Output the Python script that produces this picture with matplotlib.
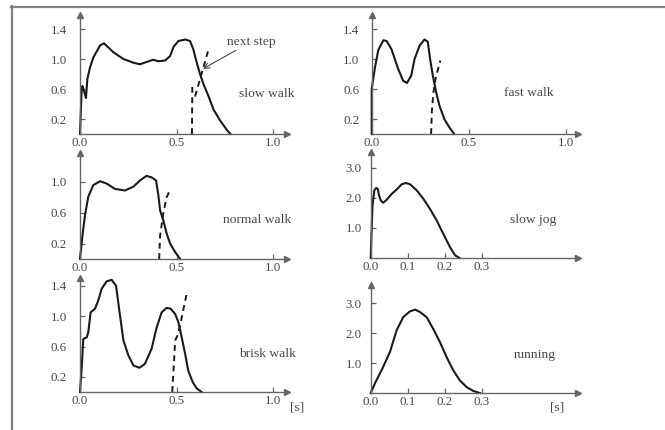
import numpy as np
import matplotlib
matplotlib.use("Agg")
import matplotlib.pyplot as plt
from matplotlib.lines import Line2D

plt.rcParams['font.family'] = ['Liberation Serif', 'DejaVu Serif']

TEXT = '#474747'
AXIS = '#666666'
CURVE = '#1a1a1a'
nan = np.nan

# ---- ground reaction force curves (time in s, force in body weights) ----
slow_walk_t = [0.0, 0.009, 0.013, 0.020, 0.031, 0.038, 0.052, 0.069, 0.104, 0.124,
               0.173, 0.225, 0.277, 0.311, 0.345, 0.380, 0.406, 0.441, 0.467, 0.484,
               0.510, 0.545, 0.570, 0.587, 0.604, 0.622, 0.639, 0.665, 0.691, 0.726,
               0.762, 0.780]
slow_walk_f = [0.0, 0.62, 0.64, 0.58, 0.48, 0.73, 0.89, 1.02, 1.18, 1.21,
               1.09, 1.00, 0.95, 0.93, 0.96, 0.99, 0.97, 0.98, 1.04, 1.16,
               1.24, 1.26, 1.24, 1.13, 0.96, 0.80, 0.67, 0.51, 0.33, 0.18,
               0.05, 0.0]
slow_walk_next_t = [0.580, 0.582, nan, 0.596, 0.663]
slow_walk_next_f = [0.0, 0.63, nan, 0.50, 1.10]

fast_walk_t = [0.0, 0.0, 0.017, 0.034, 0.060, 0.077, 0.102, 0.136, 0.162, 0.182,
               0.204, 0.221, 0.247, 0.272, 0.289, 0.301, 0.315, 0.332, 0.349, 0.374,
               0.400, 0.425]
fast_walk_f = [0.0, 0.60, 0.89, 1.12, 1.25, 1.24, 1.13, 0.87, 0.71, 0.68,
               0.78, 1.00, 1.18, 1.26, 1.23, 1.00, 0.78, 0.56, 0.38, 0.20,
               0.09, 0.0]
fast_walk_next_t = [0.306, 0.310, 0.318, 0.330, 0.354]
fast_walk_next_f = [0.0, 0.30, 0.55, 0.75, 0.98]

normal_walk_t = [0.0, 0.013, 0.026, 0.043, 0.069, 0.104, 0.138, 0.181, 0.233, 0.277,
                 0.311, 0.345, 0.371, 0.394, 0.406, 0.415, 0.432, 0.449, 0.467, 0.493,
                 0.519]
normal_walk_f = [0.0, 0.31, 0.57, 0.81, 0.96, 1.01, 0.98, 0.91, 0.89, 0.94,
                 1.02, 1.08, 1.06, 1.02, 0.83, 0.63, 0.50, 0.33, 0.20, 0.09,
                 0.0]
normal_walk_next_t = [0.410, 0.415, 0.432, 0.449, 0.467]
normal_walk_next_f = [0.0, 0.30, 0.60, 0.80, 0.90]

slow_jog_t = [0.0, 0.0047, 0.007, 0.010, 0.0146, 0.019, 0.0224, 0.027, 0.034, 0.043,
              0.057, 0.070, 0.084, 0.095, 0.106, 0.124, 0.142, 0.160, 0.178, 0.196,
              0.214, 0.228, 0.240]
slow_jog_f = [0.0, 1.70, 1.98, 2.26, 2.33, 2.31, 2.09, 1.92, 1.84, 1.94,
              2.14, 2.28, 2.46, 2.50, 2.46, 2.26, 1.98, 1.64, 1.26, 0.81,
              0.37, 0.09, 0.0]

brisk_walk_t = [0.0, 0.009, 0.017, 0.035, 0.043, 0.055, 0.078, 0.095, 0.112, 0.138,
                0.164, 0.187, 0.204, 0.225, 0.251, 0.277, 0.308, 0.336, 0.371, 0.397,
                0.423, 0.449, 0.469, 0.493, 0.510, 0.527, 0.545, 0.561, 0.584, 0.604,
                0.630]
brisk_walk_f = [0.0, 0.33, 0.70, 0.72, 0.79, 1.05, 1.10, 1.21, 1.36, 1.46,
                1.48, 1.40, 1.07, 0.68, 0.48, 0.35, 0.32, 0.37, 0.57, 0.85,
                1.05, 1.11, 1.10, 1.03, 0.92, 0.72, 0.50, 0.28, 0.13, 0.05,
                0.0]
brisk_walk_next_t = [0.478, 0.487, 0.493, 0.506, 0.516, 0.553]
brisk_walk_next_f = [0.0, 0.40, 0.68, 0.75, 0.85, 1.30]

running_t = [0.0, 0.0133, 0.0314, 0.0521, 0.070, 0.088, 0.106, 0.120, 0.133, 0.151,
             0.169, 0.187, 0.205, 0.223, 0.241, 0.259, 0.277, 0.295]
running_f = [0.0, 0.37, 0.81, 1.37, 2.09, 2.53, 2.72, 2.78, 2.70, 2.53,
             2.14, 1.70, 1.20, 0.76, 0.42, 0.20, 0.07, 0.0]

walk_xticks = [0.0, 0.5, 1.0]
run_xticks = [0.0, 0.1, 0.2, 0.3]
walk_yticks_4 = [0.2, 0.6, 1.0, 1.4]
walk_yticks_3 = [0.2, 0.6, 1.0]
run_yticks = [1.0, 2.0, 3.0]

# ---- figure layout (pixel geometry of each panel) ----
W, H = 665, 430
fig = plt.figure(figsize=(W / 100, H / 100), dpi=100)
fig.patch.set_facecolor('white')

# outer frame (top and left edges)
fig.add_artist(Line2D([11 / W, 1.0], [1 - 6.5 / H, 1 - 6.5 / H], transform=fig.transFigure,
                      color='#808080', lw=1.6))
fig.add_artist(Line2D([11.5 / W, 11.5 / W], [0.0, 1 - 6 / H], transform=fig.transFigure,
                      color='#808080', lw=1.6))

panels = [
    dict(t=slow_walk_t, f=slow_walk_f, nt=slow_walk_next_t, nf=slow_walk_next_f,
         x0=80, y0=134, sx=193, sy=75, xend=287, ytop=15,
         xt=walk_xticks, yt=walk_yticks_4, label='slow walk', lx=0.97, ly=0.53, ypad=9.5),
    dict(t=fast_walk_t, f=fast_walk_f, nt=fast_walk_next_t, nf=fast_walk_next_f,
         x0=371.7, y0=134, sx=194, sy=75, xend=578, ytop=15,
         xt=walk_xticks, yt=walk_yticks_4, label='fast walk', lx=0.81, ly=0.55, ypad=9.0),
    dict(t=normal_walk_t, f=normal_walk_f, nt=normal_walk_next_t, nf=normal_walk_next_f,
         x0=80, y0=259, sx=193, sy=77, xend=287, ytop=153,
         xt=walk_xticks, yt=walk_yticks_3, label='normal walk', lx=0.92, ly=0.51, ypad=9.5),
    dict(t=slow_jog_t, f=slow_jog_f, nt=None, nf=None,
         x0=370.7, y0=258, sx=370, sy=30, xend=578, ytop=152,
         xt=run_xticks, yt=run_yticks, label='slow jog', lx=0.44, ly=1.27, ypad=6.5),
    dict(t=brisk_walk_t, f=brisk_walk_f, nt=brisk_walk_next_t, nf=brisk_walk_next_f,
         x0=80, y0=392, sx=193, sy=75.8, xend=287, ytop=278,
         xt=walk_xticks, yt=walk_yticks_4, label='brisk walk', lx=0.97, ly=0.50, ypad=9.5),
    dict(t=running_t, f=running_f, nt=None, nf=None,
         x0=370.7, y0=393, sx=370, sy=30, xend=578, ytop=285,
         xt=run_xticks, yt=run_yticks, label='running', lx=0.444, ly=1.27, ypad=6.5),
]

axes = []
for p in panels:
    left = p['x0'] / W
    bottom = 1 - p['y0'] / H
    width = (p['xend'] - p['x0']) / W
    height = (p['y0'] - p['ytop']) / H
    ax = fig.add_axes([left, bottom, width, height])
    ax.set_xlim(0, (p['xend'] - p['x0']) / p['sx'])
    ax.set_ylim(0, (p['y0'] - p['ytop']) / p['sy'])
    ax.patch.set_alpha(0)

    for side in ('top', 'right'):
        ax.spines[side].set_visible(False)
    for side in ('left', 'bottom'):
        ax.spines[side].set_color(AXIS)
        ax.spines[side].set_linewidth(1.0)

    # arrow heads at the ends of both axes
    ax.plot(1, 0, marker='>', ms=4.5, color=AXIS, transform=ax.transAxes, clip_on=False)
    ax.plot(0, 1, marker='^', ms=4.5, color=AXIS, transform=ax.transAxes, clip_on=False)

    ax.set_xticks(p['xt'])
    ax.set_xticklabels(['%.1f' % v for v in p['xt']])
    ax.set_yticks(p['yt'])
    ax.set_yticklabels(['%.1f' % v for v in p['yt']])
    ax.tick_params(axis='both', direction='in', length=3.5, width=0.9, color=AXIS,
                   labelsize=9.3, labelcolor=TEXT)
    ax.tick_params(axis='x', pad=2.5)
    ax.tick_params(axis='y', pad=p['ypad'])

    ax.plot(p['t'], p['f'], color=CURVE, lw=1.5, solid_joinstyle='round', clip_on=False)
    if p['nt'] is not None:
        ax.plot(p['nt'], p['nf'], color=CURVE, lw=1.4, ls=(0, (3.0, 2.3)), clip_on=False)

    ax.text(p['lx'], p['ly'], p['label'], ha='center', va='center', fontsize=9.7,
            color=TEXT)
    axes.append(ax)

# annotation for the following foot contact
axes[0].annotate('next step', xy=(0.637, 0.87), xytext=(0.762, 1.23),
                 fontsize=9.7, color=TEXT, ha='left', va='center',
                 arrowprops=dict(arrowstyle='->', color=TEXT, lw=0.8,
                                 shrinkA=0, shrinkB=0))

# time unit labels
axes[4].text(1.124, -0.21, '[s]', ha='center', va='center', fontsize=9.7, color=TEXT,
             clip_on=False)
axes[5].text(0.504, -0.47, '[s]', ha='center', va='center', fontsize=9.7, color=TEXT,
             clip_on=False)

fig.savefig('out.png', dpi=100, facecolor='white')
